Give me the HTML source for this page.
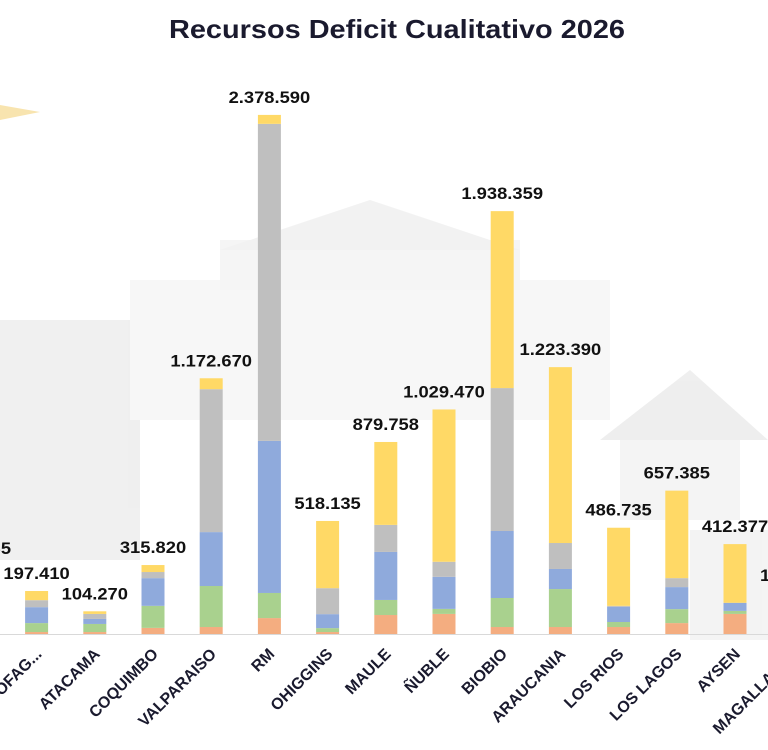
<!DOCTYPE html>
<html><head><meta charset="utf-8"><style>
html,body{margin:0;padding:0;background:#fff;}
svg{display:block;font-family:"Liberation Sans",sans-serif;}
</style></head><body>
<svg id="chart" width="768" height="750">
<g opacity="0.6">
<rect x="0" y="320" width="140" height="240" fill="#e6e6e6"/>
<rect x="130" y="280" width="480" height="140" fill="#f2f2f2"/>
<rect x="220" y="240" width="300" height="50" fill="#efefef"/>
<polygon points="220,250 370,200 520,250" fill="#eaeaea"/>
<rect x="620" y="430" width="120" height="90" fill="#ededed"/>
<polygon points="600,440 690,370 768,440" fill="#e4e4e4"/>
<rect x="690" y="530" width="78" height="110" fill="#ececec"/>
<polygon points="0,105 40,112 0,120" fill="#f3d27a"/>
</g>
<text x="397" y="38" text-anchor="middle" font-size="26" font-weight="bold" fill="#1a1a2e" textLength="456" lengthAdjust="spacingAndGlyphs">Recursos Deficit Cualitativo 2026</text>
<line x1="0" y1="634.5" x2="768" y2="634.5" stroke="#d9d9d9"/>
<g id="bars"></g>
<g id="labels"></g>
</svg>
<script>
const categories=["TARAPACA","ANTOFAGASTA","ATACAMA","COQUIMBO","VALPARAISO","RM","OHIGGINS","MAULE","ÑUBLE","BIOBIO","ARAUCANIA","LOS RIOS","LOS LAGOS","AYSEN","MAGALLANES"];
const totalLabels=["311.965","197.410","104.270","315.820","1.172.670","2.378.590","518.135","879.758","1.029.470","1.938.359","1.223.390","486.735","657.385","412.377","187.450"];
const seriesOrange=[30,9,9,28,32,73,9,87,92,32,32,32,50,92,40];
const seriesGreen=[60,41,37,101,188,115,18,69,23,133,174,23,64,14,30];
const seriesBlue=[90,73,23,127,247,697,64,220,147,307,92,69,101,37,30];
const seriesGray=[60,32,23,28,655,1453,119,124,69,655,119,5,41,0,20];
const seriesYellow=[72,42,12,32,50,41,308,380,698,811,806,358,401,269,67];
const displayNames=["TARAPACA","ANTOFAG...","ATACAMA","COQUIMBO","VALPARAISO","RM","OHIGGINS","MAULE","ÑUBLE","BIOBIO","ARAUCANIA","LOS RIOS","LOS LAGOS","AYSEN","MAGALLANES"];
const series=[seriesOrange,seriesGreen,seriesBlue,seriesGray,seriesYellow];
const colors=["#F4AD80","#A9D18E","#8FAADC","#BFBFBF","#FFD966"];
const names=["orange","green","blue","gray","yellow"];
const base=634, pxPerK=0.2182, step=58.2, x0=-21.6, bw=23;
const xScale=i=>x0+i*step;
const yScale=v=>base-v*pxPerK;
const NS="http://www.w3.org/2000/svg";
const gb=document.getElementById('bars'), gl=document.getElementById('labels');
categories.forEach((c,i)=>{
  let cum=0;
  const cx=xScale(i);
  series.forEach((s,k)=>{
    const v=s[i]; if(v<=0) return;
    const r=document.createElementNS(NS,'rect');
    r.setAttribute('x',cx-bw/2);
    r.setAttribute('y',yScale(cum+v));
    r.setAttribute('width',bw);
    r.setAttribute('height',v*pxPerK);
    r.setAttribute('fill',colors[k]);
    
    
    gb.appendChild(r);
    cum+=v;
  });
  const t=document.createElementNS(NS,'text');
  t.setAttribute('x',cx);
  t.setAttribute('y',yScale(cum)-12);
  t.setAttribute('text-anchor','middle');
  t.setAttribute('font-size','17');
  t.setAttribute('font-weight','bold');
  t.setAttribute('fill','#111');
  t.setAttribute('transform','translate('+cx+' 0) scale(1.08 1) translate('+(-cx)+' 0)');
  t.textContent=totalLabels[i];
  
  
  gl.appendChild(t);
  const xl=document.createElementNS(NS,'text');
  const ax=cx+6, ay=655;
  xl.setAttribute('x',ax);
  xl.setAttribute('y',ay);
  xl.setAttribute('text-anchor','end');
  xl.setAttribute('font-size','16');
  xl.setAttribute('font-weight','bold');
  xl.setAttribute('fill','#1a1a2e');
  xl.setAttribute('transform','rotate(-45 '+ax+' '+ay+')');
  xl.textContent=displayNames[i];
  
  
  gl.appendChild(xl);
});
</script>
</body></html>
